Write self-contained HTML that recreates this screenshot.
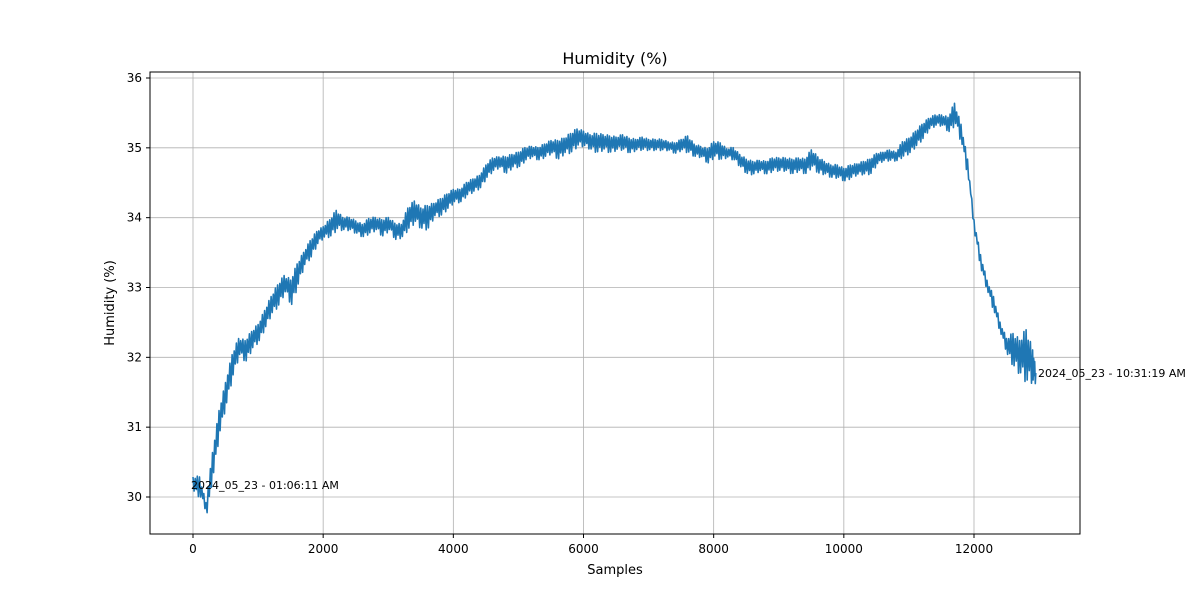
<!DOCTYPE html>
<html><head><meta charset="utf-8"><style>
html,body{margin:0;padding:0;background:#fff;}
svg text{font-family:"DejaVu Sans","Liberation Sans",sans-serif;fill:#000;}
</style></head><body>
<svg id="chart" width="1200" height="600" viewBox="0 0 1200 600" xmlns="http://www.w3.org/2000/svg">
<rect x="0" y="0" width="1200" height="600" fill="#fff"/>
<g id="grid"></g>
<g id="ticks"></g>
<g id="series"></g>
<rect x="150" y="72" width="930" height="462" fill="none" stroke="#000" stroke-width="1"/>
<text x="615" y="64" text-anchor="middle" font-size="16">Humidity (%)</text>
<text x="615" y="574" text-anchor="middle" font-size="13">Samples</text>
<text transform="translate(114,303) rotate(-90)" text-anchor="middle" font-size="13">Humidity (%)</text>
<text x="191" y="489" font-size="11">2024_05_23 - 01:06:11 AM</text>
<text x="1038" y="377" font-size="11">2024_05_23 - 10:31:19 AM</text>
</svg>
<script>
const xTicks=[0,2000,4000,6000,8000,10000,12000];
const yTicks=[30,31,32,33,34,35,36];
const samples=[0,100,200,300,400,500,600,700,800,900,1000,1100,1200,1300,1400,1500,1600,1700,1800,1900,2000,2100,2200,2300,2400,2500,2600,2700,2800,2900,3000,3100,3200,3300,3400,3500,3600,3700,3800,3900,4000,4100,4200,4300,4400,4500,4600,4700,4800,4900,5000,5100,5200,5300,5400,5500,5600,5700,5800,5900,6000,6100,6200,6300,6400,6500,6600,6700,6800,6900,7000,7100,7200,7300,7400,7500,7600,7700,7800,7900,8000,8100,8200,8300,8400,8500,8600,8700,8800,8900,9000,9100,9200,9300,9400,9500,9600,9700,9800,9900,10000,10100,10200,10300,10400,10500,10600,10700,10800,10900,11000,11100,11200,11300,11400,11500,11600,11700,11800,11900,12000,12100,12200,12300,12400,12500,12600,12700,12800,12900,12950];
const lows=[30.05,29.95,29.75,30.3,30.9,31.3,31.7,32.0,31.9,32.1,32.2,32.4,32.6,32.7,32.9,32.7,33.0,33.3,33.4,33.6,33.7,33.7,33.8,33.8,33.8,33.75,33.7,33.75,33.8,33.7,33.8,33.65,33.7,33.8,33.9,33.8,33.8,34.0,34.0,34.1,34.2,34.2,34.3,34.35,34.4,34.55,34.65,34.7,34.6,34.7,34.7,34.8,34.85,34.8,34.85,34.9,34.8,34.9,34.9,35.0,35.0,34.95,34.9,34.95,34.9,34.95,34.95,34.9,34.95,34.95,34.95,34.95,34.95,34.95,34.9,34.95,34.9,34.85,34.85,34.75,34.85,34.8,34.85,34.8,34.7,34.6,34.6,34.65,34.6,34.65,34.65,34.65,34.6,34.65,34.6,34.7,34.6,34.6,34.55,34.55,34.5,34.55,34.6,34.6,34.6,34.75,34.8,34.8,34.8,34.85,34.9,35.0,35.1,35.25,35.3,35.3,35.2,35.3,35.0,34.5,33.7,33.2,32.9,32.6,32.3,32.0,31.8,31.7,31.55,31.6,31.6];
const highs=[30.4,30.45,30.0,30.8,31.4,31.8,32.2,32.4,32.4,32.5,32.6,32.8,33.0,33.2,33.3,33.3,33.5,33.6,33.8,33.9,33.95,34.1,34.25,34.1,34.1,34.05,34.0,34.1,34.1,34.1,34.1,34.05,34.0,34.3,34.4,34.3,34.35,34.3,34.4,34.45,34.5,34.5,34.6,34.65,34.7,34.85,34.95,34.95,35.0,35.0,35.05,35.1,35.1,35.1,35.15,35.2,35.25,35.25,35.35,35.4,35.35,35.3,35.35,35.3,35.3,35.25,35.3,35.25,35.2,35.25,35.2,35.2,35.2,35.15,35.15,35.2,35.3,35.15,35.1,35.1,35.2,35.2,35.05,35.1,35.0,34.95,34.9,34.9,34.9,34.95,34.95,34.95,34.95,34.95,34.95,35.1,35.0,34.9,34.85,34.85,34.8,34.85,34.85,34.9,34.95,35.0,35.0,35.05,35.0,35.2,35.25,35.35,35.45,35.5,35.55,35.55,35.55,35.8,35.5,35.0,34.1,33.6,33.2,33.0,32.6,32.4,32.6,32.5,32.8,32.35,31.95];
const X0=150,X1=1080,Y0=72,Y1=534;
function xs(v){return 193+(v-0)*(974-193)/12000;}
function ys(v){return 497-(v-30)*(497-78)/6;}
const NS="http://www.w3.org/2000/svg";
const grid=document.getElementById('grid'),ticks=document.getElementById('ticks'),ser=document.getElementById('series');
xTicks.forEach(t=>{const x=xs(t);
 const l=document.createElementNS(NS,'line');l.setAttribute('x1',x);l.setAttribute('x2',x);l.setAttribute('y1',Y0);l.setAttribute('y2',Y1);l.setAttribute('stroke','#b0b0b0');l.setAttribute('stroke-width','0.8');
 
 
 grid.appendChild(l);
 const k=document.createElementNS(NS,'line');k.setAttribute('x1',x);k.setAttribute('x2',x);k.setAttribute('y1',Y1);k.setAttribute('y2',Y1+4);k.setAttribute('stroke','#000');
 
 
 ticks.appendChild(k);
 const tx=document.createElementNS(NS,'text');tx.setAttribute('x',x);tx.setAttribute('y',Y1+19);tx.setAttribute('text-anchor','middle');tx.setAttribute('font-size','12');tx.textContent=t;
 
 
 ticks.appendChild(tx);});
yTicks.forEach(t=>{const y=ys(t);
 const l=document.createElementNS(NS,'line');l.setAttribute('x1',X0);l.setAttribute('x2',X1);l.setAttribute('y1',y);l.setAttribute('y2',y);l.setAttribute('stroke','#b0b0b0');l.setAttribute('stroke-width','0.8');
 
 
 grid.appendChild(l);
 const k=document.createElementNS(NS,'line');k.setAttribute('x1',X0-4);k.setAttribute('x2',X0);k.setAttribute('y1',y);k.setAttribute('y2',y);k.setAttribute('stroke','#000');
 
 
 ticks.appendChild(k);
 const tx=document.createElementNS(NS,'text');tx.setAttribute('x',X0-8);tx.setAttribute('y',y+4);tx.setAttribute('text-anchor','end');tx.setAttribute('font-size','12');tx.textContent=t;
 
 
 ticks.appendChild(tx);});
let pts=[];
const amp=[0.35,0.8,0.25,0.55,0.4,0.9];
let c=0;
for(let i=0;i<samples.length-1;i++){
 const s0=samples[i],s1=samples[i+1];
 const n=3;
 for(let j=0;j<n;j++){
  const f=j/n,s=s0+(s1-s0)*f;
  const lo=lows[i]+(lows[i+1]-lows[i])*f, hi=highs[i]+(highs[i+1]-highs[i])*f;
  const mid=(lo+hi)/2;
  pts.push([xs(s),ys(mid+(hi-mid)*amp[c%6])]);c++;
  pts.push([xs(s+(s1-s0)/(2*n)),ys(mid-(mid-lo)*amp[c%6])]);c++;
 }
}
const li=samples.length-1;
pts.push([xs(samples[li]),ys((lows[li]+highs[li])/2)]);
const p=document.createElementNS(NS,'polyline');
p.setAttribute('points',pts.map(q=>q[0].toFixed(1)+','+q[1].toFixed(1)).join(' '));
p.setAttribute('fill','none');p.setAttribute('stroke','#1f77b4');p.setAttribute('stroke-width','1.6');p.setAttribute('stroke-linejoin','round');


ser.appendChild(p);
</script>
</body></html>
